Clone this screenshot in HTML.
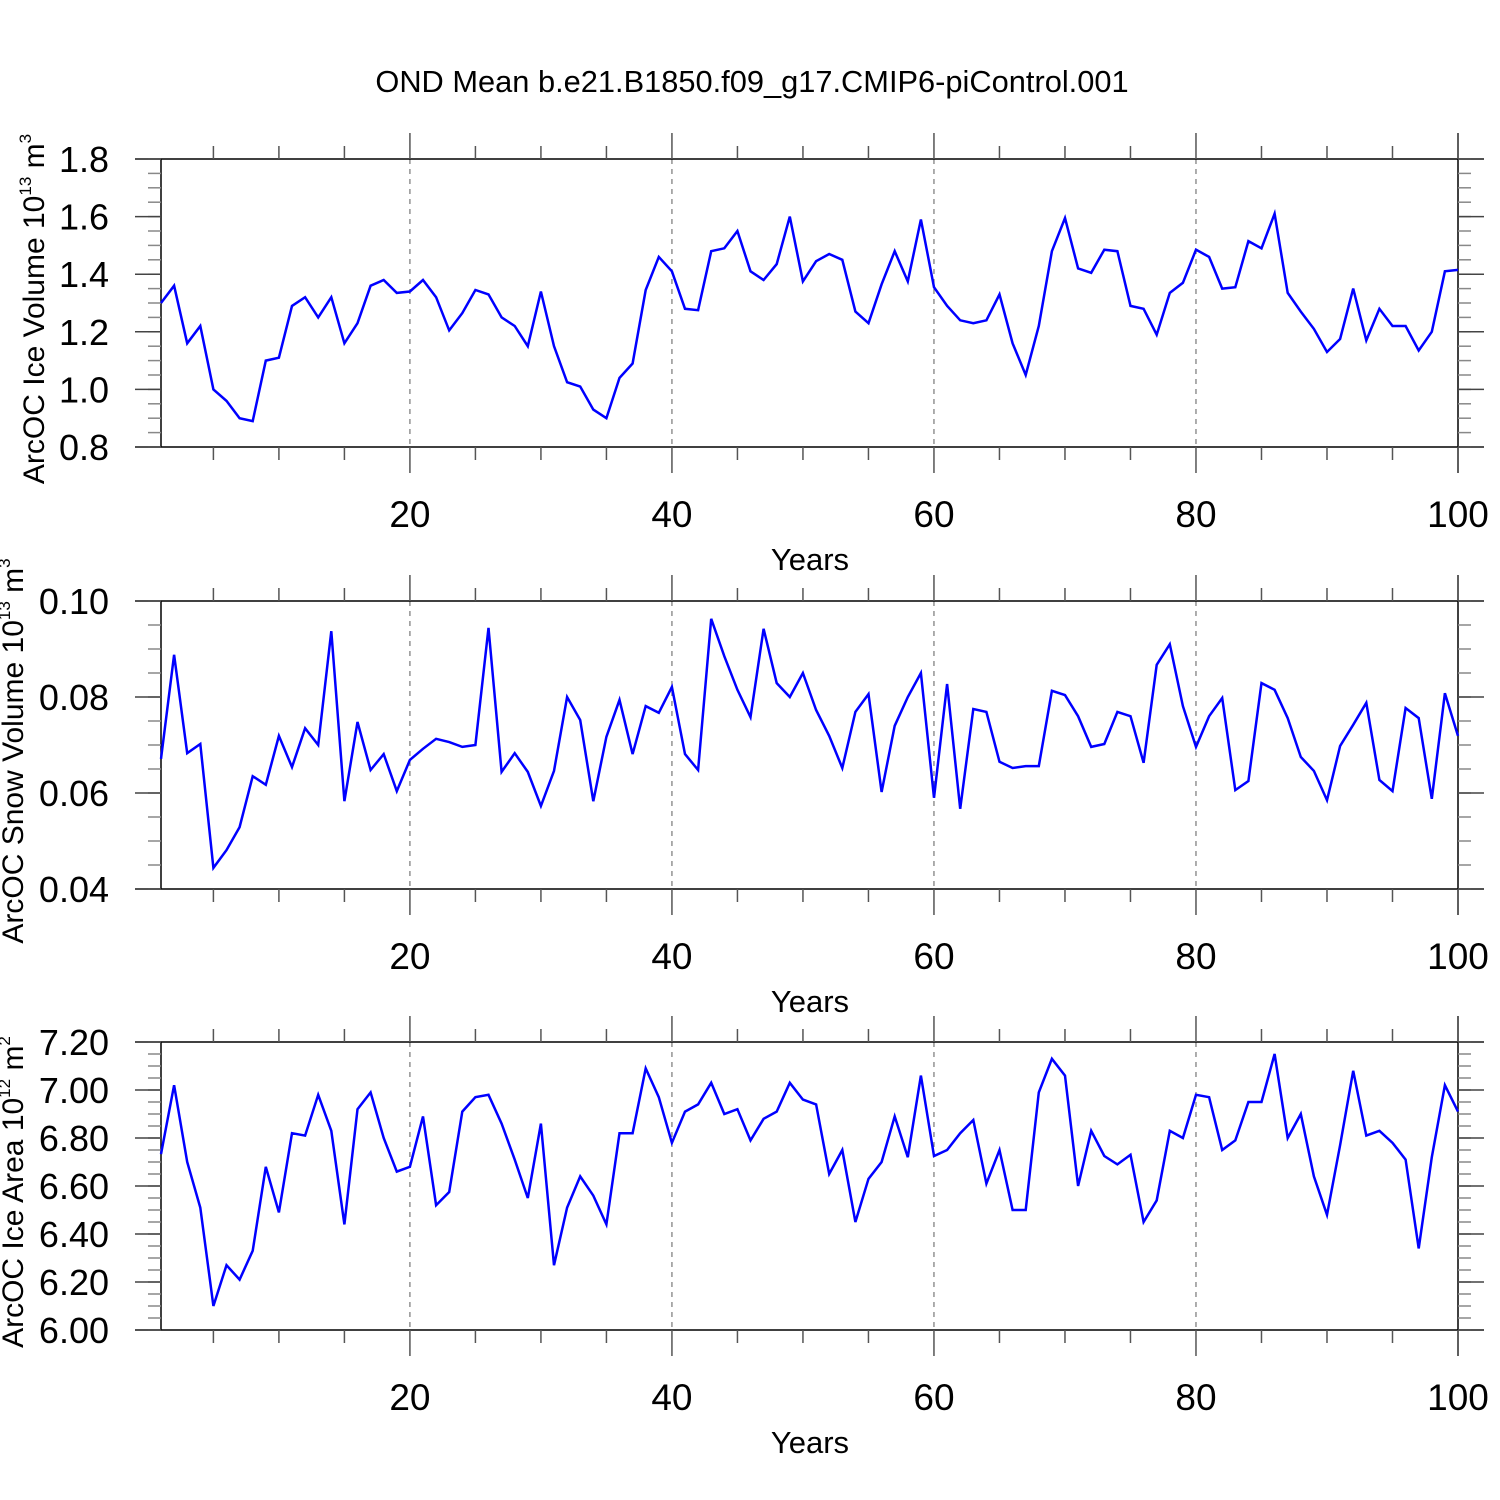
<!DOCTYPE html>
<html><head><meta charset="utf-8"><style>
html,body{margin:0;padding:0;background:#fff}
svg{display:block;font-family:"Liberation Sans",Arial,sans-serif}
</style></head><body>
<svg id="chart" width="1500" height="1500" viewBox="0 0 1500 1500">
<text x="752" y="92" font-size="30.8" text-anchor="middle">OND Mean b.e21.B1850.f09_g17.CMIP6-piControl.001</text>
</svg>
<script>
const years = Array.from({length:100},(_,i)=>i+1);
const iceVolume = [1.30,1.36,1.16,1.22,1.00,0.96,0.90,0.89,1.10,1.11,1.29,1.32,1.25,1.32,1.16,1.23,1.36,1.38,1.335,1.34,1.38,1.32,1.205,1.265,1.345,1.33,1.25,1.22,1.15,1.34,1.15,1.025,1.01,0.93,0.90,1.04,1.09,1.345,1.46,1.41,1.28,1.275,1.48,1.49,1.55,1.41,1.38,1.435,1.60,1.375,1.445,1.47,1.45,1.27,1.23,1.365,1.48,1.375,1.59,1.355,1.29,1.24,1.23,1.24,1.33,1.16,1.05,1.22,1.48,1.595,1.42,1.405,1.485,1.48,1.29,1.28,1.19,1.335,1.37,1.485,1.46,1.35,1.355,1.515,1.49,1.61,1.335,1.27,1.21,1.13,1.175,1.35,1.17,1.28,1.22,1.22,1.135,1.20,1.41,1.415];
const snowVolume = [0.0671,0.0888,0.0683,0.0702,0.0444,0.0481,0.0529,0.0635,0.0617,0.0719,0.0654,0.0735,0.0700,0.0937,0.0583,0.0748,0.0648,0.0681,0.0604,0.0669,0.0692,0.0713,0.0706,0.0696,0.0700,0.0944,0.0644,0.0683,0.0644,0.0573,0.0646,0.0800,0.0752,0.0583,0.0717,0.0794,0.0681,0.0781,0.0767,0.0821,0.0681,0.0648,0.0963,0.0885,0.0815,0.0758,0.0942,0.0829,0.0800,0.0850,0.0773,0.0719,0.0652,0.0769,0.0806,0.0602,0.0740,0.0800,0.0850,0.0590,0.0827,0.0567,0.0775,0.0769,0.0665,0.0652,0.0656,0.0656,0.0813,0.0804,0.0760,0.0696,0.0702,0.0769,0.0760,0.0663,0.0867,0.0910,0.0781,0.0696,0.0760,0.0798,0.0606,0.0625,0.0829,0.0815,0.0756,0.0675,0.0646,0.0585,0.0698,0.0742,0.0788,0.0627,0.0604,0.0777,0.0756,0.0588,0.0808,0.0719];
const iceArea = [6.733,7.02,6.70,6.51,6.10,6.27,6.21,6.33,6.68,6.49,6.82,6.81,6.98,6.83,6.44,6.92,6.99,6.80,6.66,6.68,6.89,6.52,6.575,6.91,6.97,6.98,6.86,6.71,6.55,6.86,6.27,6.51,6.64,6.56,6.44,6.82,6.82,7.09,6.97,6.78,6.91,6.94,7.03,6.90,6.92,6.79,6.88,6.91,7.03,6.96,6.94,6.65,6.75,6.45,6.63,6.70,6.89,6.72,7.06,6.725,6.75,6.82,6.875,6.61,6.75,6.50,6.50,6.99,7.13,7.06,6.60,6.83,6.725,6.69,6.73,6.45,6.54,6.83,6.80,6.98,6.97,6.75,6.79,6.95,6.95,7.15,6.80,6.90,6.64,6.48,6.77,7.08,6.81,6.83,6.78,6.71,6.34,6.72,7.02,6.91];
const xTickLabels = ["20","40","60","80","100"];
const yTicks1 = ["0.8","1.0","1.2","1.4","1.6","1.8"];
const yTicks2 = ["0.04","0.06","0.08","0.10"];
const yTicks3 = ["6.00","6.20","6.40","6.60","6.80","7.00","7.20"];

const svg = document.getElementById('chart');
const NS = 'http://www.w3.org/2000/svg';
function mk(tag, attrs, parent){const e=document.createElementNS(NS,tag);for(const k in attrs)e.setAttribute(k,attrs[k]);(parent||svg).appendChild(e);return e;}
const X0=161, X1=1458, XL=135, XR=1484;
const xs = v => X0 + (v-1)*(X1-X0)/99;

const panels = [
 {top:159,bot:447,min:0.8,max:1.8,minor:0.05,ticks:yTicks1,data:iceVolume,name:'ice-volume',tx:44,title:['ArcOC Ice Volume 10','13',' m','3']},
 {top:601,bot:889,min:0.04,max:0.10,minor:0.005,ticks:yTicks2,data:snowVolume,name:'snow-volume',tx:23,title:['ArcOC Snow Volume 10','13',' m','3']},
 {top:1042,bot:1330,min:6.0,max:7.2,minor:0.05,ticks:yTicks3,data:iceArea,name:'ice-area',tx:23,title:['ArcOC Ice Area 10','12',' m','2']}
];
panels.forEach(p=>{
  const g = mk('g',{});
  
  
  const ys = v => p.bot - (v-p.min)/(p.max-p.min)*(p.bot-p.top);
  [20,40,60,80].forEach(t=>{
    const l=mk('line',{x1:xs(t),x2:xs(t),y1:p.top,y2:p.bot,stroke:'#777','stroke-width':1.2,'stroke-dasharray':'5,5'},g);
    
    
  });
  mk('line',{x1:XL,x2:XR,y1:p.top,y2:p.top,stroke:'#000','stroke-width':1.5},g);
  mk('line',{x1:XL,x2:XR,y1:p.bot,y2:p.bot,stroke:'#000','stroke-width':1.5},g);
  mk('line',{x1:X0,x2:X0,y1:p.top,y2:p.bot,stroke:'#000','stroke-width':1.5},g);
  mk('line',{x1:X1,x2:X1,y1:p.top-26,y2:p.bot+26,stroke:'#000','stroke-width':1.5},g);
  for(let t=5;t<=100;t+=5){
    const major = t%20===0;
    const len = major?26:13;
    mk('line',{x1:xs(t),x2:xs(t),y1:p.top-len,y2:p.top,stroke:'#555','stroke-width':1.5},g);
    mk('line',{x1:xs(t),x2:xs(t),y1:p.bot,y2:p.bot+len,stroke:'#555','stroke-width':1.5},g);
  }
  xTickLabels.forEach(s=>{
    const t=mk('text',{x:xs(+s),y:p.bot+80,'font-size':37,'text-anchor':'middle'},g);
    t.textContent=s;
    
    
  });
  const xt=mk('text',{x:810,y:p.bot+123,'font-size':31,'text-anchor':'middle'},g);
  xt.textContent='Years';
  
  
  const n=Math.round((p.max-p.min)/p.minor);
  for(let i=0;i<=n;i++){
    const v=p.min+i*p.minor, y=ys(v);
    mk('line',{x1:X0-13,x2:X0,y1:y,y2:y,stroke:'#888','stroke-width':1.5},g);
    mk('line',{x1:X1,x2:X1+13,y1:y,y2:y,stroke:'#888','stroke-width':1.5},g);
  }
  p.ticks.forEach(s=>{
    const y=ys(+s);
    mk('line',{x1:XL,x2:X0,y1:y,y2:y,stroke:'#444','stroke-width':1.5},g);
    mk('line',{x1:X1,x2:XR,y1:y,y2:y,stroke:'#444','stroke-width':1.5},g);
    const t=mk('text',{x:109,y:y+13,'font-size':36,'text-anchor':'end'},g);
    t.textContent=s;
    
    
  });
  const cy=(p.top+p.bot)/2;
  const yt=mk('text',{x:0,y:0,'font-size':30,'text-anchor':'middle',transform:`translate(${p.tx},${cy+6}) rotate(-90)`},g);
  
  
  const a=document.createElementNS(NS,'tspan');a.textContent=p.title[0];yt.appendChild(a);
  const b=document.createElementNS(NS,'tspan');b.setAttribute('dy','-13');b.setAttribute('font-size','17');b.textContent=p.title[1];yt.appendChild(b);
  const c=document.createElementNS(NS,'tspan');c.setAttribute('dy','13');c.textContent=p.title[2];yt.appendChild(c);
  const d=document.createElementNS(NS,'tspan');d.setAttribute('dy','-13');d.setAttribute('font-size','17');d.textContent=p.title[3];yt.appendChild(d);
  const pts=p.data.map((v,i)=>xs(years[i]).toFixed(1)+','+ys(v).toFixed(1)).join(' ');
  const pl=mk('polyline',{points:pts,fill:'none',stroke:'#0000ff','stroke-width':2.5,'stroke-linejoin':'miter'},g);
  
  
});
</script>
</body></html>
